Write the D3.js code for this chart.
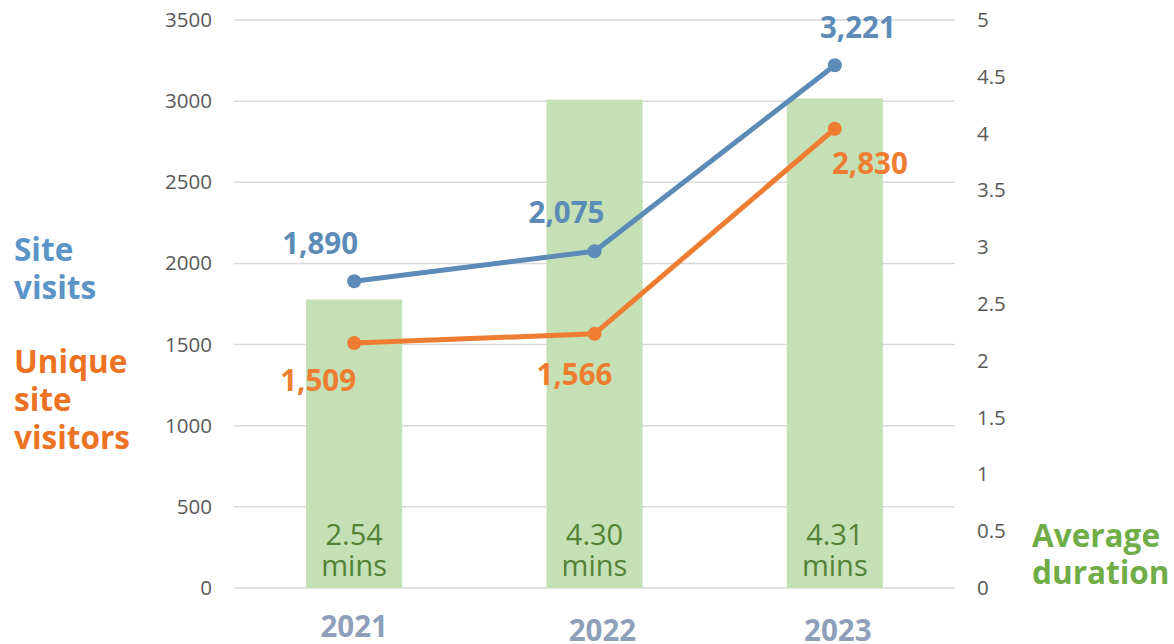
<!DOCTYPE html>
<html>
<head>
<meta charset="utf-8">
<script src="https://cdn.jsdelivr.net/npm/d3@7"></script>
<style>
  body { margin: 0; background: #fff; }
  svg text { font-family: "Open Sans", "Noto Sans", sans-serif; }
</style>
</head>
<body>
<svg id="chart"></svg>
<script>
const years = ["2021", "2022", "2023"];
const siteVisits = [1890, 2075, 3221];
const uniqueVisitors = [1509, 1566, 2830];
const avgDuration = [2.54, 4.30, 4.31];
const leftTicks = [0, 500, 1000, 1500, 2000, 2500, 3000, 3500];
const rightTicks = [0, 0.5, 1, 1.5, 2, 2.5, 3, 3.5, 4, 4.5, 5];

const WIDTH = 1174;
const HEIGHT = 644;
const LEFT = 234, RIGHT = 955, TOP = 20, BOTTOM = 588;

const BLUE = "#5b8bb6";
const ORANGE = "#ee7d31";
const BAR_GREEN = "#c5e0b4";

// label nudges relative to each point (dx, dy)
const visitOffsets = [[-34, -38], [-28, -39], [23, -38]];
const uniqueOffsets = [[-36, 38], [-20, 41], [35, 35]];

const svg = d3.select("#chart").attr("width", WIDTH).attr("height", HEIGHT);

const x = d3.scaleBand().domain(years).range([LEFT, RIGHT]).paddingInner(0.6).paddingOuter(0.3);
const yLeft = d3.scaleLinear().domain([0, 3500]).range([BOTTOM, TOP]);
const yRight = d3.scaleLinear().domain([0, 5]).range([BOTTOM, TOP]);
const cx = d => x(d) + x.bandwidth() / 2;

// gridlines
svg.append("g")
    .selectAll("line")
    .data(leftTicks)
    .join("line")
    .attr("x1", LEFT).attr("x2", RIGHT)
    .attr("y1", d => yLeft(d)).attr("y2", d => yLeft(d))
    .attr("stroke", "#d9d9d9").attr("stroke-width", 1.5);

// left axis
const leftAxis = svg.append("g")
    .attr("transform", `translate(${LEFT - 22},0)`)
    .call(d3.axisLeft(yLeft).tickValues(leftTicks).tickSize(0).tickPadding(0).tickFormat(d3.format("d")));
leftAxis.select(".domain").remove();
leftAxis.selectAll("text").attr("font-size", 20.5).attr("fill", "#595959")
    .attr("font-family", "Open Sans, sans-serif");

// right axis
const rightAxis = svg.append("g")
    .attr("transform", `translate(${RIGHT + 22},0)`)
    .call(d3.axisRight(yRight).tickValues(rightTicks).tickSize(0).tickPadding(0).tickFormat(d => String(d)));
rightAxis.select(".domain").remove();
rightAxis.selectAll("text").attr("font-size", 20.5).attr("fill", "#595959")
    .attr("font-family", "Open Sans, sans-serif");

// bars
svg.append("g")
    .selectAll("rect")
    .data(years)
    .join("rect")
    .attr("x", d => x(d))
    .attr("width", x.bandwidth())
    .attr("y", (d, i) => yRight(avgDuration[i]))
    .attr("height", (d, i) => BOTTOM - yRight(avgDuration[i]))
    .attr("fill", BAR_GREEN);

// bar labels
const barLabels = svg.append("g")
    .selectAll("text")
    .data(years)
    .join("text")
    .attr("x", d => cx(d))
    .attr("y", 545)
    .attr("text-anchor", "middle")
    .attr("font-size", 29)
    .attr("fill", "#548235");
barLabels.append("tspan").attr("x", d => cx(d)).text((d, i) => avgDuration[i].toFixed(2));
barLabels.append("tspan").attr("x", d => cx(d)).attr("dy", 31).text("mins");

// lines
function drawSeries(values, color, offsets) {
    const line = d3.line().x(d => cx(d[0])).y(d => yLeft(d[1]));
    const pts = years.map((yr, i) => [yr, values[i]]);
    svg.append("path")
        .datum(pts)
        .attr("d", line)
        .attr("fill", "none")
        .attr("stroke", color)
        .attr("stroke-width", 5);
    svg.append("g")
        .selectAll("circle")
        .data(pts)
        .join("circle")
        .attr("cx", d => cx(d[0]))
        .attr("cy", d => yLeft(d[1]))
        .attr("r", 7)
        .attr("fill", color);
    svg.append("g")
        .selectAll("text")
        .data(pts)
        .join("text")
        .attr("x", (d, i) => cx(d[0]) + offsets[i][0])
        .attr("y", (d, i) => yLeft(d[1]) + offsets[i][1])
        .attr("dy", "0.35em")
        .attr("text-anchor", "middle")
        .attr("font-size", 29.5)
        .attr("font-weight", "bold")
        .attr("fill", color)
        .text(d => d3.format(",")(d[1]));
}
drawSeries(siteVisits, BLUE, visitOffsets);
drawSeries(uniqueVisitors, ORANGE, uniqueOffsets);

// year labels
svg.append("g")
    .selectAll("text")
    .data(years)
    .join("text")
    .attr("x", (d, i) => cx(d) + (i === 1 ? 8 : i === 2 ? 3 : 0))
    .attr("y", (d, i) => i === 0 ? 637 : 641)
    .attr("text-anchor", "middle")
    .attr("font-size", 29.5)
    .attr("font-weight", "bold")
    .attr("fill", "#8d9fb9")
    .text(d => d);

// side titles
function multiLine(lines, xPos, yPos, lh, color, size) {
    const t = svg.append("text")
        .attr("x", xPos).attr("y", yPos)
        .attr("font-size", size)
        .attr("font-weight", "bold")
        .attr("fill", color);
    lines.forEach((s, i) => {
        t.append("tspan").attr("x", xPos).attr("dy", i === 0 ? 0 : lh).text(s);
    });
}
multiLine(["Site", "visits"], 14, 261, 38, "#5b95c7", 31.5);
multiLine(["Unique", "site", "visitors"], 14, 373, 38, "#ed7223", 31.5);
multiLine(["Average", "duration"], 1032, 547, 37, "#70ad47", 31.5);
</script>
</body>
</html>
